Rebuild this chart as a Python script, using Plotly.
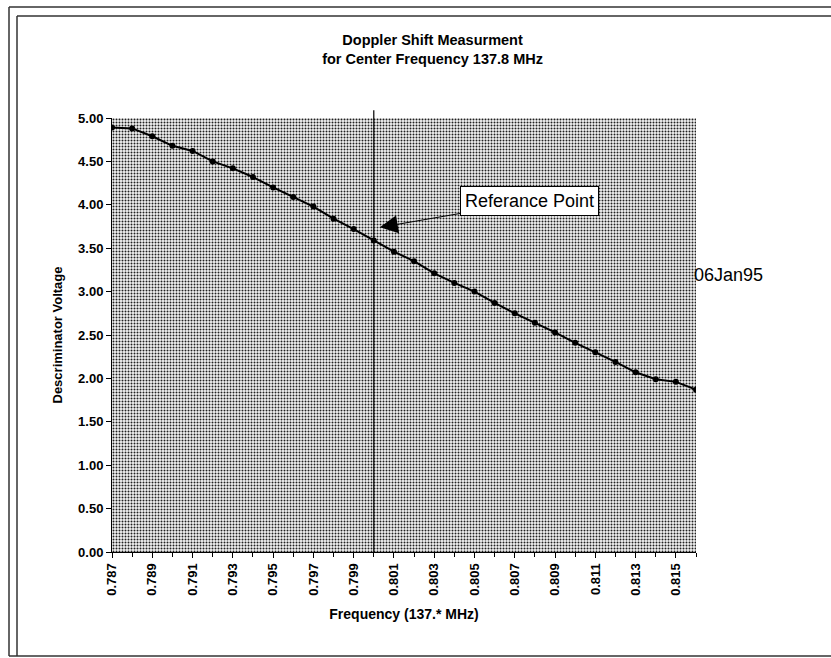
import plotly.graph_objects as go

# Discriminator output vs. tuned frequency (offset from 137 MHz)
freq = [0.787, 0.788, 0.789, 0.790, 0.791, 0.792, 0.793, 0.794, 0.795, 0.796,
        0.797, 0.798, 0.799, 0.800, 0.801, 0.802, 0.803, 0.804, 0.805, 0.806,
        0.807, 0.808, 0.809, 0.810, 0.811, 0.812, 0.813, 0.814, 0.815, 0.816]
voltage = [4.89, 4.88, 4.79, 4.68, 4.62, 4.50, 4.42, 4.32, 4.20, 4.09,
           3.98, 3.84, 3.72, 3.59, 3.46, 3.35, 3.21, 3.10, 3.00, 2.87,
           2.75, 2.64, 2.53, 2.41, 2.30, 2.19, 2.07, 1.99, 1.96, 1.87]
ref_freq = 0.800
y_range = [0, 5]

W, H = 831, 658
L, R, T, B = 112, 135, 118, 106
pw, ph = W - L - R, H - T - B


def px(x):
    return (x - L) / pw


def py(y):
    return (H - B - y) / ph


sans = "Liberation Sans, Arial, sans-serif"

fig = go.Figure()

# stippled plot background
fig.add_trace(go.Scatter(
    x=[freq[0], freq[-1], freq[-1], freq[0], freq[0]],
    y=[y_range[0], y_range[0], y_range[1], y_range[1], y_range[0]],
    mode="none", fill="toself", fillcolor="#a0a0a0",
    fillpattern=dict(shape=".", fgcolor="#202020", bgcolor="#f4f4f4",
                     size=3, solidity=0.35, fillmode="replace"),
    hoverinfo="skip", showlegend=False,
))

fig.add_trace(go.Scatter(
    x=freq, y=voltage, mode="lines+markers",
    line=dict(color="black", width=2),
    marker=dict(color="black", size=6),
    showlegend=False,
))

# reference frequency marker
fig.add_shape(type="line", xref="x", yref="paper", x0=ref_freq, x1=ref_freq,
              y0=0, y1=1.018, line=dict(color="black", width=1.2))

ref_v = voltage[freq.index(ref_freq)]
fig.add_annotation(
    x=ref_freq + 0.0003, y=ref_v + 0.15, xref="x", yref="y",
    text="Referance Point", showarrow=True, arrowhead=2, arrowsize=3.6,
    arrowwidth=1, arrowcolor="black", ax=150, ay=-26,
    font=dict(family=sans, size=18, color="black"),
    bgcolor="white", bordercolor="black", borderwidth=1, borderpad=4,
)

fig.add_annotation(
    x=px(692), y=py(275), xref="paper", yref="paper", xanchor="left",
    yanchor="middle", text="06Jan95", showarrow=False,
    font=dict(family=sans, size=18, color="black"),
)

# double frame around the chart
frame = dict(color="#333333", width=1.5)
for lx, ty in ((9, 7), (17, 16)):
    fig.add_shape(type="line", xref="paper", yref="paper",
                  x0=px(lx), x1=px(lx), y0=py(ty), y1=py(656), line=frame)
    fig.add_shape(type="line", xref="paper", yref="paper",
                  x0=px(lx), x1=px(845), y0=py(ty), y1=py(ty), line=frame)
fig.add_shape(type="line", xref="paper", yref="paper",
              x0=px(9), x1=px(845), y0=py(656), y1=py(656), line=frame)

fig.update_layout(
    width=W, height=H,
    margin=dict(l=L, r=R, t=T, b=B),
    paper_bgcolor="white", plot_bgcolor="white",
    title=dict(
        text="<b>Doppler Shift Measurment<br>for Center Frequency 137.8 MHz</b>",
        x=px(416), xanchor="center", y=1 - 45 / H, yanchor="middle",
        font=dict(family=sans, size=14.5, color="black"),
    ),
    font=dict(family=sans, color="black"),
)

fig.update_xaxes(
    range=[freq[0], freq[-1]], tick0=freq[0], dtick=0.002, tickformat=".3f",
    tickangle=-90, ticks="outside", ticklen=5, tickcolor="black",
    minor=dict(dtick=0.001, ticks="outside", ticklen=4, tickcolor="black"),
    showline=True, linecolor="black", linewidth=1, showgrid=False,
    zeroline=False, tickfont=dict(family=sans, size=13, weight="bold"),
    title=dict(text="<b>Frequency (137.* MHz)</b>", standoff=14,
               font=dict(family=sans, size=14)),
)
fig.update_yaxes(
    range=y_range, dtick=0.5, tickformat=".2f", ticks="outside", ticklen=5,
    tickcolor="black", showline=True, linecolor="black", linewidth=1,
    showgrid=False, zeroline=False,
    tickfont=dict(family=sans, size=13, weight="bold"),
    title=dict(text="<b>Descriminator Voltage</b>", standoff=12,
               font=dict(family=sans, size=13)),
)

fig.write_html("out.html")
